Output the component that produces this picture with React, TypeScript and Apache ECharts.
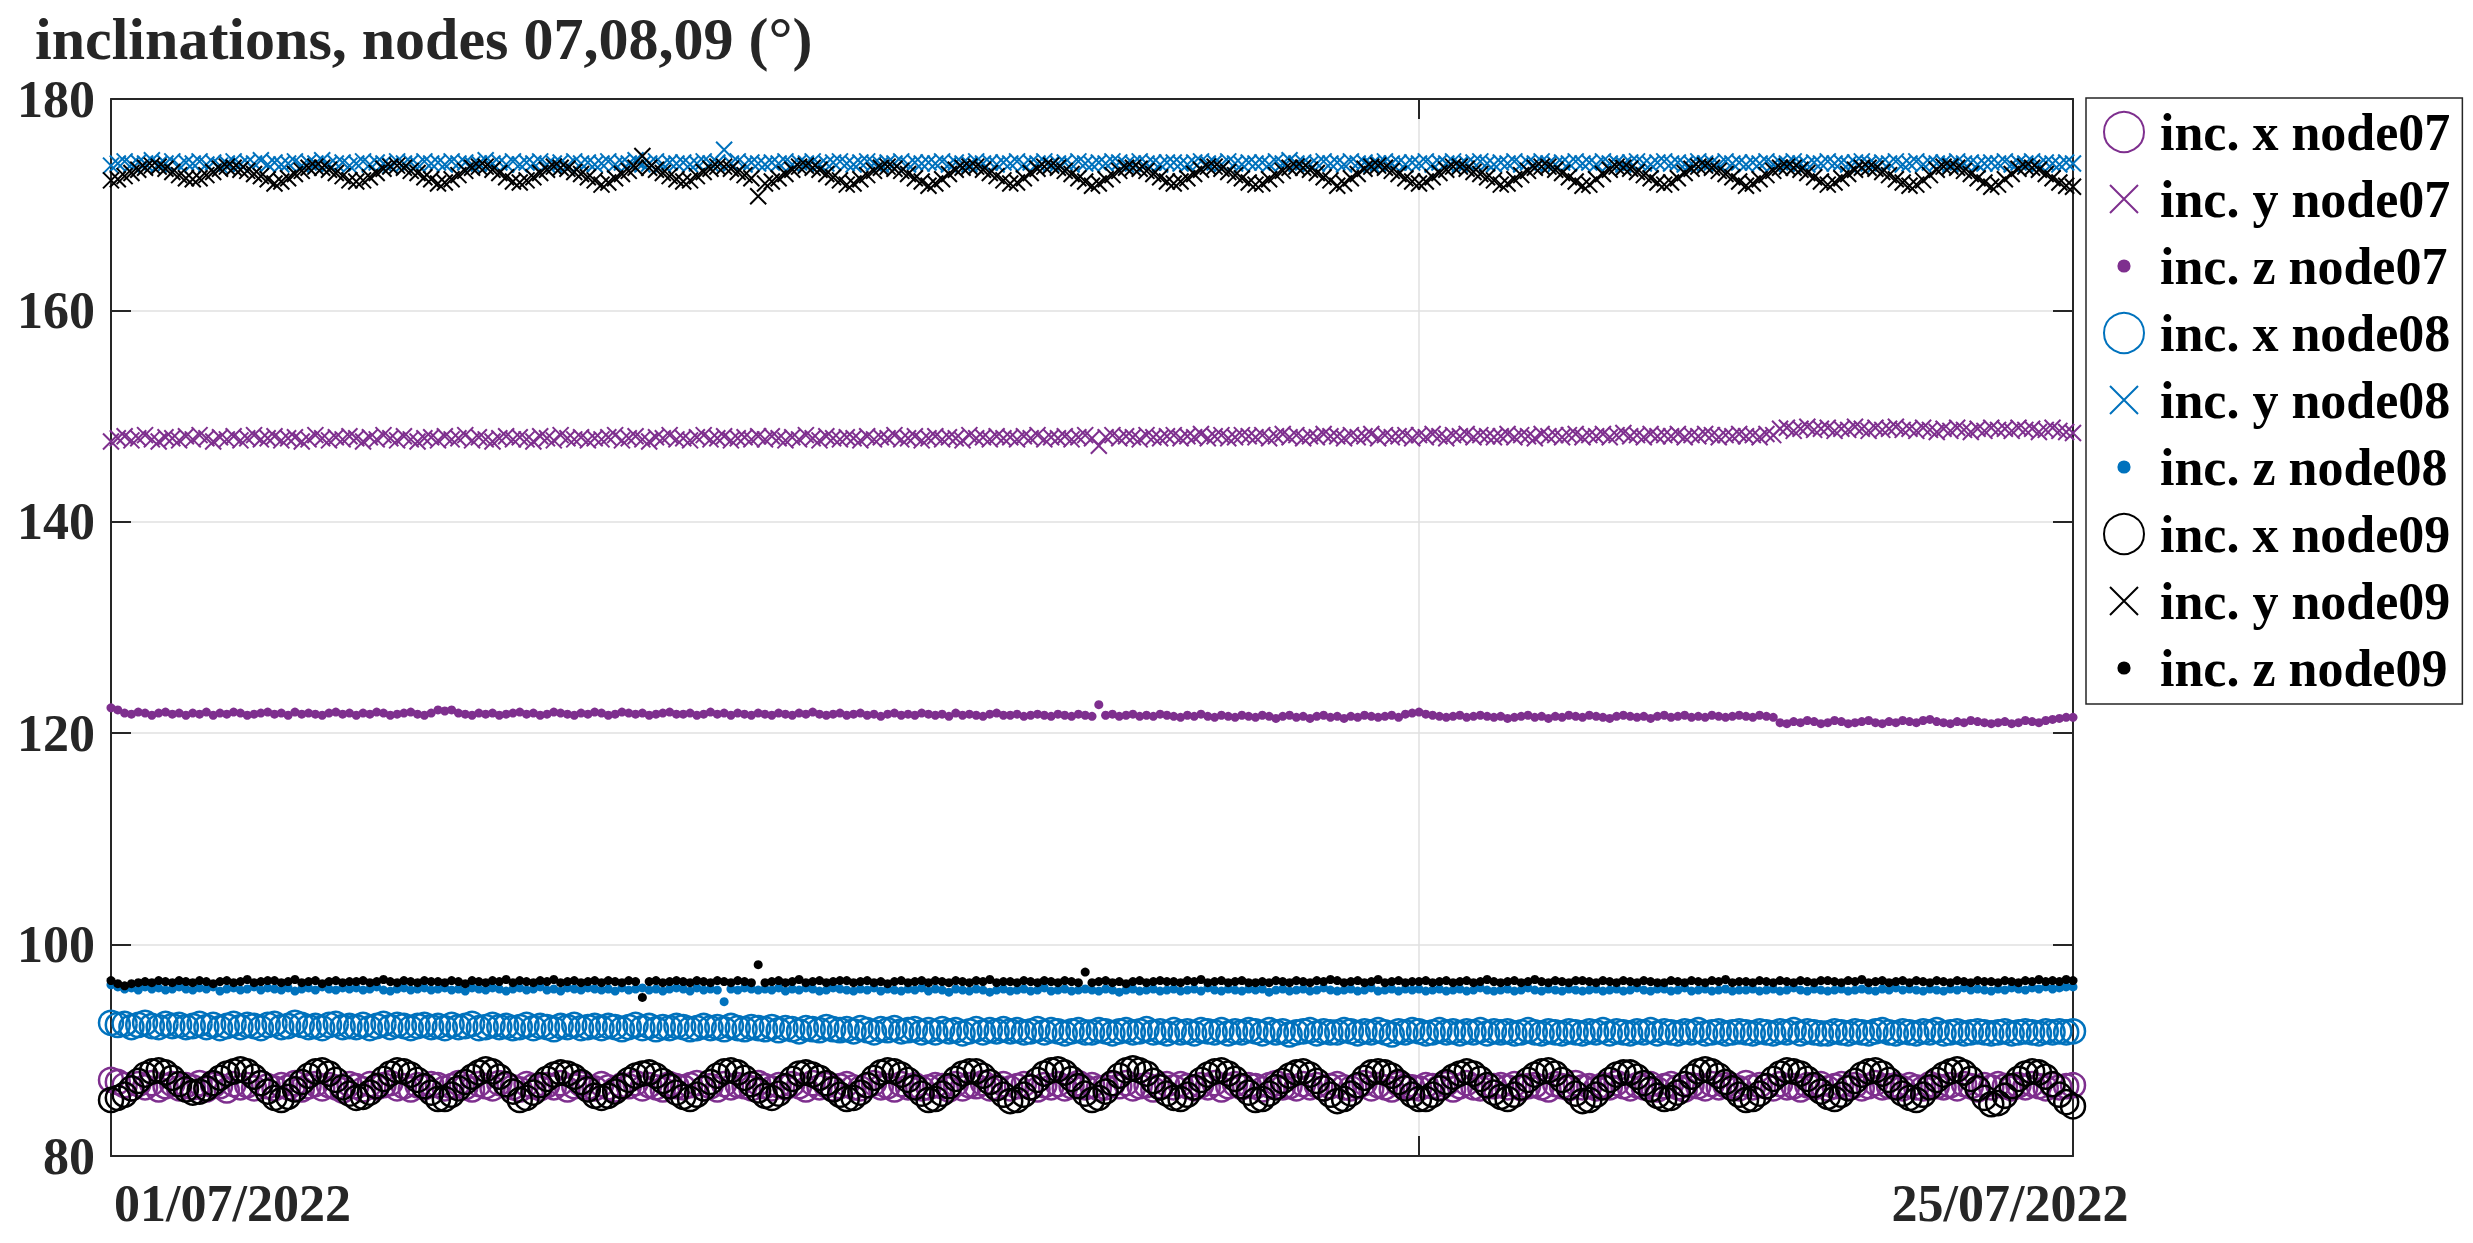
import React, { useEffect, useRef } from 'react';
import * as echarts from 'echarts';

// ---------- texts ----------
const TITLE = 'inclinations, nodes 07,08,09 (°)';
const X_TICK_LABELS = ['01/07/2022', '25/07/2022'];
const SERIES_NAMES = [
  'inc. x node07', 'inc. y node07', 'inc. z node07',
  'inc. x node08', 'inc. y node08', 'inc. z node08',
  'inc. x node09', 'inc. y node09', 'inc. z node09',
];

// ---------- axes (days since 01/07/2022 00:00) ----------
const X_MIN = 0;
const X_MAX = 24;
const X_INTERVAL = 16;
const Y_MIN = 80;
const Y_MAX = 180;
const Y_INTERVAL = 20;
const STEP_DAYS = 1 / 12; // one sample every 2 hours

// ---------- data (°), one row = one day, 12 samples ----------
const incX07 = [
  87.2, 87.0, 86.7, 86.4, 86.8, 86.5, 86.9, 86.3, 86.6, 86.8, 86.4, 86.7,
  86.5, 86.9, 86.3, 86.7, 86.6, 86.2, 86.8, 86.5, 86.7, 86.4, 86.9, 86.6,
  86.4, 86.7, 86.5, 86.9, 86.3, 86.6, 86.8, 86.4, 86.7, 86.5, 86.2, 86.8,
  86.6, 86.3, 86.8, 86.5, 86.7, 86.9, 86.4, 86.6, 86.3, 86.7, 86.5, 86.8,
  86.7, 86.4, 86.6, 86.9, 86.5, 86.3, 86.8, 86.6, 86.4, 86.9, 86.7, 86.5,
  86.3, 86.8, 86.6, 86.4, 86.7, 86.5, 86.9, 86.3, 86.6, 86.8, 86.5, 86.4,
  86.8, 86.5, 86.3, 86.7, 86.6, 86.9, 86.4, 86.7, 86.5, 86.3, 86.8, 86.6,
  86.5, 86.7, 86.9, 86.4, 86.6, 86.3, 86.8, 86.5, 86.7, 86.6, 86.4, 86.9,
  86.6, 86.4, 86.7, 86.5, 86.8, 86.6, 86.3, 86.9, 86.5, 86.7, 86.4, 86.6,
  86.8, 86.5, 86.4, 86.7, 86.9, 86.5, 86.6, 86.3, 86.8, 86.5, 86.7, 86.4,
  86.5, 86.7, 86.6, 86.3, 86.8, 86.4, 86.7, 86.6, 86.9, 86.4, 86.5, 86.8,
  86.4, 86.6, 86.8, 86.5, 86.3, 86.7, 86.5, 86.8, 86.4, 86.6, 86.9, 86.5,
  86.7, 86.4, 86.5, 86.8, 86.6, 86.9, 86.4, 86.6, 86.7, 86.3, 86.6, 86.8,
  86.5, 86.8, 86.6, 86.4, 86.7, 86.5, 86.9, 86.3, 86.6, 86.8, 86.5, 86.7,
  86.6, 86.3, 86.7, 86.9, 86.5, 86.6, 86.4, 86.8, 86.5, 86.7, 86.4, 86.6,
  86.8, 86.5, 86.4, 86.6, 86.9, 86.4, 86.7, 86.5, 86.3, 86.8, 86.6, 86.5,
  86.4, 86.7, 86.6, 86.5, 86.8, 86.3, 86.6, 86.9, 86.5, 86.4, 86.7, 86.6,
  86.7, 86.5, 86.8, 86.4, 86.6, 86.7, 86.5, 86.3, 86.8, 86.6, 86.4, 86.9,
  86.5, 86.6, 86.4, 86.7, 86.5, 86.9, 86.6, 86.4, 86.7, 86.5, 86.8, 86.3,
  86.6, 86.8, 86.5, 86.3, 86.7, 86.6, 86.4, 86.8, 86.5, 86.7, 86.6, 86.4,
  86.9, 86.5, 86.7, 86.6, 86.4, 86.8, 86.5, 86.6, 86.3, 86.7, 86.5, 86.8,
  86.4, 86.6, 86.8, 86.5, 86.7, 86.4, 86.6, 86.9, 86.5, 86.6, 86.7, 86.4,
  86.7, 86.5, 86.4, 86.8, 86.6, 86.5, 86.7, 86.4, 86.8, 86.6, 86.3, 86.7,
  86.5, 86.8, 86.6, 86.4, 86.7, 86.5, 86.8, 86.6, 86.4, 86.7, 86.5, 86.6,
  86.7,
];

const incY07 = [
  147.6, 147.9, 148.1, 147.7, 147.9, 148.2, 147.8, 147.6, 148.0, 147.9, 147.7, 148.1,
  147.8, 148.2, 147.9, 147.6, 148.0, 147.8, 148.1, 147.7, 147.9, 148.2, 147.8, 147.9,
  148.1, 147.7, 147.9, 148.0, 147.6, 147.8, 148.2, 147.9, 147.7, 148.0, 147.8, 148.1,
  147.9, 147.6, 148.0, 147.8, 148.2, 147.9, 147.7, 148.1, 147.8, 147.6, 147.9, 148.0,
  147.7, 148.1, 147.8, 147.9, 148.2, 147.7, 148.0, 147.8, 147.6, 147.9, 148.1, 147.8,
  148.0, 147.8, 147.6, 148.1, 147.9, 147.7, 148.2, 147.9, 147.8, 148.0, 147.7, 147.9,
  147.8, 148.0, 148.2, 147.7, 147.9, 148.1, 147.8, 147.6, 148.0, 147.9, 148.2, 147.8,
  147.9, 147.7, 148.0, 148.2, 147.8, 147.9, 148.1, 147.7, 147.9, 148.0, 147.8, 148.1,
  147.8, 148.1, 147.9, 147.7, 148.0, 147.8, 148.2, 147.9, 147.7, 148.1, 147.9, 147.8,
  148.0, 147.9, 147.7, 148.1, 147.8, 148.0, 147.9, 148.2, 147.8, 147.9, 148.1, 147.7,
  147.9, 148.1, 147.8, 148.0, 147.9, 147.7, 148.2, 147.9, 148.0, 147.8, 148.1, 147.9,
  148.0, 147.8, 148.1, 147.9, 148.2, 147.8, 148.0, 147.9, 148.1, 147.8, 148.0, 148.2,
  147.9, 147.2, 148.0, 148.2, 147.9, 148.1, 148.0, 147.8, 148.2, 148.0, 147.9, 148.1,
  148.2, 147.9, 148.1, 148.0, 148.3, 147.9, 148.1, 148.2, 147.9, 148.0, 148.2, 148.1,
  148.0, 148.2, 147.9, 148.1, 148.3, 148.0, 148.2, 147.9, 148.1, 148.0, 148.3, 148.1,
  148.1, 147.9, 148.2, 148.0, 148.1, 148.3, 147.9, 148.2, 148.0, 148.1, 148.2, 147.9,
  148.2, 148.0, 148.3, 148.1, 147.9, 148.2, 148.1, 148.3, 148.0, 148.2, 148.1, 148.0,
  148.1, 148.3, 148.0, 148.2, 148.1, 147.9, 148.3, 148.1, 148.2, 148.0, 148.2, 148.3,
  148.0, 148.2, 148.1, 148.3, 148.0, 148.2, 148.4, 148.1, 148.2, 148.0, 148.3, 148.1,
  148.2, 148.1, 148.3, 148.0, 148.2, 148.1, 148.3, 148.2, 148.0, 148.2, 148.1, 148.3,
  148.1, 148.2, 148.0, 148.3, 148.2, 148.8, 148.9, 148.6, 148.8, 149.0, 148.7, 148.8,
  148.9, 148.6, 148.8, 148.7, 149.0, 148.8, 148.6, 148.9, 148.7, 148.8, 149.0, 148.7,
  148.8, 148.6, 148.9, 148.7, 148.5, 148.8, 148.6, 148.9, 148.7, 148.5, 148.8, 148.6,
  148.9, 148.7, 148.8, 148.6, 148.9, 148.7, 148.8, 148.5, 148.7, 148.9, 148.6, 148.5,
  148.4,
];

const incZ07 = [
  122.4, 122.2, 121.9, 121.8, 122.0, 121.9, 121.7, 121.9, 122.0, 121.8, 121.9, 121.7,
  121.9, 121.8, 122.0, 121.7, 121.9, 121.8, 122.0, 121.9, 121.7, 121.8, 121.9, 122.0,
  121.8, 121.9, 121.7, 122.0, 121.8, 121.9, 121.8, 121.7, 121.9, 122.0, 121.8, 121.9,
  121.7, 121.9, 121.8, 122.0, 121.9, 121.7, 121.8, 121.9, 122.0, 121.8, 121.7, 121.9,
  122.2, 122.1, 122.2, 121.9, 121.8, 121.7, 121.9, 121.8, 121.9, 121.7, 121.8, 121.9,
  122.0, 121.8, 121.9, 121.7, 121.8, 122.0, 121.9, 121.8, 121.7, 121.9, 121.8, 122.0,
  121.9, 121.7, 121.8, 122.0, 121.9, 121.8, 121.9, 121.7, 121.8, 121.9, 122.0, 121.8,
  121.8, 121.9, 121.7, 121.8, 122.0, 121.8, 121.9, 121.7, 121.9, 121.8, 121.7, 121.9,
  121.8, 121.7, 121.9, 121.8, 121.7, 121.9, 121.8, 122.0, 121.8, 121.7, 121.8, 121.9,
  121.7, 121.8, 121.9, 121.7, 121.8, 121.6, 121.8, 121.9, 121.7, 121.8, 121.7, 121.9,
  121.8, 121.7, 121.8, 121.6, 121.9, 121.7, 121.8, 121.7, 121.6, 121.8, 121.9, 121.7,
  121.7, 121.8, 121.6, 121.7, 121.8, 121.7, 121.6, 121.8, 121.7, 121.6, 121.8, 121.7,
  121.6, 122.7, 121.7, 121.8, 121.6, 121.7, 121.8, 121.6, 121.7, 121.6, 121.8, 121.7,
  121.6, 121.5, 121.7, 121.6, 121.8, 121.6, 121.5, 121.7, 121.6, 121.5, 121.7, 121.6,
  121.5, 121.7, 121.6, 121.4, 121.6, 121.7, 121.5, 121.6, 121.4, 121.6, 121.7, 121.5,
  121.6, 121.4, 121.6, 121.5, 121.7, 121.6, 121.5, 121.6, 121.7, 121.5, 121.8, 121.9,
  122.0, 121.8, 121.7, 121.6, 121.5, 121.6, 121.7, 121.5, 121.6, 121.7, 121.6, 121.5,
  121.6, 121.4, 121.5, 121.6, 121.7, 121.5, 121.6, 121.4, 121.6, 121.5, 121.7, 121.6,
  121.5, 121.7, 121.6, 121.5, 121.4, 121.6, 121.7, 121.6, 121.5, 121.6, 121.4, 121.6,
  121.7, 121.5, 121.6, 121.7, 121.5, 121.6, 121.5, 121.7, 121.6, 121.5, 121.6, 121.7,
  121.6, 121.5, 121.7, 121.6, 121.5, 121.0, 120.9, 121.1, 121.0, 121.2, 121.1, 120.9,
  121.0, 121.2, 121.1, 120.9, 121.0, 121.1, 121.2, 121.0, 120.9, 121.1, 121.0, 121.2,
  121.1, 121.0, 121.2, 121.3, 121.1, 121.0, 120.9, 121.1, 121.0, 121.2, 121.1, 121.0,
  120.9, 121.0, 121.1, 120.9, 121.0, 121.2, 121.1, 121.0, 121.2, 121.3, 121.4, 121.5,
  121.5,
];

const incX08 = [
  92.6, 92.4, 92.5, 92.2, 92.4, 92.6, 92.3, 92.2, 92.5, 92.3, 92.4, 92.2,
  92.3, 92.5, 92.2, 92.4, 92.1, 92.3, 92.5, 92.2, 92.4, 92.3, 92.1, 92.4,
  92.5, 92.2, 92.3, 92.6, 92.4, 92.2, 92.3, 92.1, 92.4, 92.5, 92.2, 92.3,
  92.2, 92.4, 92.1, 92.3, 92.5, 92.2, 92.4, 92.3, 92.1, 92.3, 92.4, 92.2,
  92.3, 92.1, 92.4, 92.2, 92.3, 92.5, 92.1, 92.2, 92.4, 92.2, 92.3, 92.1,
  92.2, 92.4, 92.1, 92.3, 92.2, 92.0, 92.3, 92.2, 92.4, 92.1, 92.2, 92.3,
  92.1, 92.3, 92.2, 92.0, 92.2, 92.4, 92.1, 92.3, 92.0, 92.2, 92.1, 92.3,
  92.2, 92.0, 92.1, 92.3, 92.1, 92.2, 92.0, 92.3, 92.1, 92.0, 92.2, 92.1,
  92.0, 92.2, 91.9, 92.1, 92.0, 91.8, 92.1, 92.0, 91.9, 92.2, 92.0, 91.9,
  92.0, 91.8, 92.1, 91.9, 91.7, 92.0, 91.9, 92.1, 91.8, 91.9, 92.0, 91.7,
  91.9, 91.7, 92.0, 91.8, 91.9, 91.6, 91.8, 92.0, 91.7, 91.9, 91.8, 92.0,
  91.8, 91.9, 91.7, 91.8, 92.0, 91.7, 91.9, 91.8, 91.6, 91.8, 91.9, 91.7,
  91.7, 91.9, 91.8, 91.6, 91.8, 91.9, 91.7, 91.8, 92.0, 91.7, 91.8, 91.6,
  91.9, 91.7, 91.8, 91.6, 91.9, 91.8, 91.7, 91.9, 91.6, 91.8, 91.7, 91.9,
  91.8, 91.6, 91.9, 91.7, 91.8, 91.5, 91.7, 91.8, 91.9, 91.6, 91.8, 91.7,
  91.7, 91.9, 91.8, 91.6, 91.8, 91.7, 91.9, 91.7, 91.5, 91.8, 91.7, 91.9,
  91.8, 91.6, 91.7, 91.9, 91.7, 91.8, 91.6, 91.8, 91.7, 91.9, 91.6, 91.8,
  91.7, 91.8, 91.6, 91.7, 91.9, 91.7, 91.6, 91.8, 91.7, 91.6, 91.8, 91.7,
  91.6, 91.8, 91.7, 91.9, 91.6, 91.8, 91.7, 91.6, 91.8, 91.7, 91.9, 91.6,
  91.8, 91.7, 91.6, 91.8, 91.7, 91.9, 91.6, 91.7, 91.8, 91.6, 91.7, 91.8,
  91.7, 91.6, 91.8, 91.7, 91.6, 91.8, 91.7, 91.9, 91.6, 91.8, 91.7, 91.6,
  91.6, 91.8, 91.7, 91.6, 91.8, 91.7, 91.6, 91.8, 91.9, 91.7, 91.6, 91.8,
  91.7, 91.6, 91.8, 91.7, 91.9, 91.6, 91.7, 91.8, 91.6, 91.7, 91.8, 91.7,
  91.6, 91.7, 91.8, 91.6, 91.7, 91.8, 91.7, 91.6, 91.8, 91.7, 91.8, 91.7,
  91.8,
];

const incY08 = [
  173.7, 173.9, 174.1, 173.8, 174.0, 173.9, 174.2, 173.8, 173.9, 174.1, 173.7, 174.0,
  173.9, 174.1, 173.8, 174.0, 173.7, 173.9, 174.1, 173.8, 174.0, 173.9, 174.2, 173.8,
  174.0, 173.8, 173.9, 174.1, 173.7, 174.0, 173.9, 174.2, 173.8, 173.9, 174.0, 173.7,
  173.9, 174.1, 173.8, 174.0, 173.9, 173.7, 174.1, 173.9, 174.0, 173.8, 174.1, 173.9,
  174.0, 173.8, 174.1, 173.9, 174.0, 173.8, 173.9, 174.2, 173.9, 174.0, 173.8, 174.1,
  173.8, 174.0, 173.9, 174.1, 173.8, 173.9, 174.0, 173.7, 174.1, 173.9, 174.0, 173.8,
  173.9, 174.1, 173.8, 174.0, 173.9, 174.2, 173.8, 173.9, 174.1, 173.8, 174.0, 173.9,
  174.0, 173.8, 173.9, 174.1, 173.9, 174.0, 175.2, 173.9, 174.1, 173.8, 174.0, 173.9,
  173.8, 174.0, 173.9, 174.1, 173.8, 174.0, 173.9, 174.1, 173.8, 173.9, 174.0, 174.1,
  173.9, 173.8, 174.0, 174.1, 173.9, 173.8, 174.0, 173.9, 174.1, 173.8, 174.0, 173.9,
  174.0, 173.9, 174.1, 173.8, 174.0, 173.9, 173.8, 174.1, 173.9, 174.0, 173.8, 174.0,
  173.9, 174.1, 173.8, 174.0, 173.9, 174.1, 173.8, 173.9, 174.0, 173.8, 174.1, 173.9,
  173.8, 174.0, 173.9, 174.1, 174.0, 173.8, 173.9, 174.1, 173.9, 174.0, 173.8, 174.0,
  174.0, 173.9, 173.8, 174.0, 174.1, 173.9, 174.0, 173.8, 174.1, 173.9, 173.8, 174.0,
  173.9, 174.0, 173.8, 174.1, 173.9, 174.2, 173.9, 174.0, 173.8, 173.9, 174.1, 173.9,
  174.0, 173.8, 174.1, 173.9, 174.0, 173.8, 173.9, 174.1, 173.9, 174.0, 173.8, 174.0,
  173.9, 174.1, 173.8, 174.0, 173.9, 174.1, 173.8, 173.9, 174.0, 174.1, 173.9, 173.8,
  174.0, 173.9, 174.1, 173.8, 174.0, 173.9, 174.1, 173.9, 173.8, 174.0, 173.9, 174.1,
  173.9, 174.0, 173.8, 174.1, 173.9, 174.0, 173.8, 174.0, 174.1, 173.9, 173.8, 174.0,
  174.1, 173.9, 174.0, 173.8, 173.9, 174.1, 173.9, 174.0, 173.8, 174.1, 173.9, 174.0,
  173.8, 174.0, 173.9, 174.1, 173.8, 174.0, 173.9, 174.1, 173.9, 173.8, 174.0, 173.9,
  174.1, 173.9, 174.0, 173.8, 174.0, 174.1, 173.9, 173.8, 174.0, 173.9, 174.1, 173.8,
  173.9, 174.1, 173.8, 174.0, 173.9, 174.0, 173.8, 174.1, 173.9, 174.0, 173.8, 173.9,
  174.0, 173.9, 174.1, 173.8, 174.0, 173.9, 174.1, 173.8, 174.0, 173.9, 173.8, 174.0,
  173.9,
];

const incZ08 = [
  96.2, 96.0, 95.8, 95.9, 95.7, 96.0, 95.8, 95.9, 95.7, 95.8, 96.0, 95.8,
  95.7, 95.9, 95.8, 96.0, 95.6, 95.8, 95.9, 95.7, 95.8, 96.0, 95.7, 95.9,
  95.8, 95.7, 95.9, 95.6, 95.8, 95.9, 95.7, 96.0, 95.8, 95.7, 95.9, 95.8,
  95.9, 95.7, 95.8, 96.0, 95.7, 95.6, 95.8, 95.9, 95.7, 95.8, 95.9, 95.7,
  95.8, 95.9, 95.7, 95.8, 95.6, 95.9, 95.8, 95.7, 95.9, 95.8, 95.6, 95.8,
  95.9, 95.7, 95.8, 96.0, 95.7, 95.8, 95.6, 95.9, 95.8, 95.7, 95.9, 95.8,
  95.7, 95.8, 95.6, 95.9, 95.7, 95.8, 95.9, 95.7, 95.8, 95.6, 95.8, 95.9,
  95.8, 95.6, 95.9, 95.7, 95.8, 95.7, 94.6, 95.8, 95.7, 95.9, 95.8, 95.7,
  95.8, 95.7, 95.9, 95.6, 95.8, 95.7, 95.9, 95.8, 95.6, 95.7, 95.9, 95.8,
  95.7, 95.6, 95.8, 95.7, 95.9, 95.6, 95.8, 95.7, 95.6, 95.8, 95.7, 95.9,
  95.6, 95.8, 95.7, 95.5, 95.8, 95.7, 95.6, 95.8, 95.7, 95.5, 95.7, 95.8,
  95.6, 95.7, 95.8, 95.6, 95.7, 95.9, 95.6, 95.7, 95.8, 95.6, 95.7, 95.8,
  95.7, 95.6, 95.8, 95.7, 95.5, 95.7, 95.8, 95.6, 95.7, 95.8, 95.6, 95.7,
  95.8, 95.6, 95.7, 95.8, 95.6, 95.9, 95.7, 95.6, 95.8, 95.7, 95.6, 95.8,
  95.7, 95.8, 95.5, 95.7, 95.8, 95.6, 95.7, 95.8, 95.6, 95.7, 95.9, 95.7,
  95.6, 95.7, 95.8, 95.6, 95.7, 95.9, 95.6, 95.7, 95.8, 95.6, 95.8, 95.7,
  95.8, 95.6, 95.7, 95.8, 95.6, 95.7, 95.8, 95.6, 95.7, 95.9, 95.7, 95.6,
  95.7, 95.8, 95.6, 95.7, 95.9, 95.7, 95.6, 95.8, 95.7, 95.6, 95.8, 95.7,
  95.6, 95.7, 95.8, 95.6, 95.7, 95.8, 95.6, 95.7, 95.9, 95.7, 95.6, 95.8,
  95.8, 95.6, 95.7, 95.9, 95.6, 95.7, 95.8, 95.6, 95.7, 95.8, 95.6, 95.7,
  95.7, 95.8, 95.6, 95.7, 95.8, 95.6, 95.7, 95.9, 95.7, 95.6, 95.8, 95.7,
  95.6, 95.7, 95.8, 95.6, 95.7, 95.8, 95.7, 95.6, 95.8, 95.7, 95.9, 95.7,
  95.8, 95.7, 95.6, 95.8, 95.7, 95.6, 95.8, 95.7, 95.9, 95.7, 95.8, 95.7,
  95.6, 95.8, 95.7, 95.9, 95.8, 95.7, 95.9, 95.8, 96.0, 95.8, 95.9, 96.0,
  96.0,
];

const incX09 = [
  85.3, 85.5, 85.8, 86.4, 87.1, 87.7, 88.0, 88.1, 87.9, 87.4, 86.8, 86.3,
  86.0, 86.1, 86.4, 86.9, 87.4, 87.8, 88.0, 88.2, 88.0, 87.5, 86.9, 86.1,
  85.5, 85.3, 85.6, 86.3, 87.0, 87.6, 88.0, 88.1, 87.8, 87.2, 86.5, 85.9,
  85.5, 85.6, 86.0, 86.6, 87.3, 87.8, 88.1, 88.0, 87.7, 87.2, 86.6, 86.0,
  85.4, 85.4, 85.8, 86.4, 87.0, 87.5, 87.9, 88.2, 88.0, 87.5, 86.8, 86.1,
  85.3, 85.5, 86.0, 86.7, 87.3, 87.7, 87.9, 87.8, 87.5, 87.0, 86.3, 85.7,
  85.5, 85.7, 86.1, 86.6, 87.2, 87.6, 87.8, 87.9, 87.6, 87.1, 86.6, 86.0,
  85.6, 85.4, 85.8, 86.4, 87.0, 87.6, 88.0, 88.1, 87.9, 87.4, 86.8, 86.2,
  85.7, 85.5, 85.9, 86.6, 87.3, 87.8, 87.9, 87.7, 87.4, 86.9, 86.3, 85.8,
  85.4, 85.5, 86.0, 86.7, 87.4, 87.9, 88.1, 88.0, 87.7, 87.2, 86.5, 85.9,
  85.3, 85.4, 85.9, 86.6, 87.3, 87.8, 88.0, 88.0, 87.6, 87.0, 86.4, 85.8,
  85.2, 85.3, 85.8, 86.5, 87.2, 87.8, 88.1, 88.2, 87.9, 87.3, 86.6, 85.9,
  85.3, 85.5, 86.1, 86.9, 87.6, 88.1, 88.3, 88.1, 87.8, 87.1, 86.5, 85.9,
  85.5, 85.4, 85.8, 86.5, 87.2, 87.7, 88.0, 88.1, 87.8, 87.3, 86.6, 86.0,
  85.3, 85.4, 85.9, 86.5, 87.1, 87.6, 87.9, 88.0, 87.7, 87.1, 86.4, 85.8,
  85.2, 85.4, 85.9, 86.7, 87.4, 87.9, 88.0, 87.9, 87.6, 87.0, 86.4, 85.8,
  85.4, 85.4, 85.8, 86.4, 87.0, 87.5, 87.8, 88.0, 87.8, 87.3, 86.7, 86.0,
  85.6, 85.4, 85.8, 86.5, 87.2, 87.7, 88.0, 88.1, 87.8, 87.2, 86.5, 85.9,
  85.2, 85.3, 85.8, 86.5, 87.2, 87.7, 87.9, 87.9, 87.5, 86.9, 86.3, 85.7,
  85.4, 85.5, 86.0, 86.8, 87.5, 88.0, 88.2, 88.0, 87.6, 87.0, 86.4, 85.8,
  85.3, 85.4, 85.9, 86.6, 87.3, 87.8, 88.1, 88.0, 87.8, 87.3, 86.7, 86.1,
  85.6, 85.4, 85.8, 86.4, 87.1, 87.7, 88.0, 88.1, 87.8, 87.2, 86.5, 85.9,
  85.5, 85.3, 85.8, 86.5, 87.2, 87.7, 88.0, 88.2, 87.9, 87.3, 86.4, 85.5,
  84.9, 85.0, 85.7, 86.6, 87.3, 87.8, 88.0, 87.9, 87.5, 86.8, 85.8, 85.1,
  84.7,
];

const incY09 = [
  172.3, 172.4, 172.7, 173.0, 173.3, 173.5, 173.7, 173.6, 173.4, 173.1, 172.8, 172.5,
  172.4, 172.5, 172.8, 173.1, 173.4, 173.6, 173.5, 173.3, 173.2, 172.9, 172.7, 172.4,
  172.0, 172.2, 172.5, 172.9, 173.2, 173.5, 173.6, 173.5, 173.3, 173.0, 172.7, 172.3,
  172.2, 172.3, 172.6, 173.0, 173.4, 173.6, 173.7, 173.5, 173.2, 173.0, 172.6, 172.4,
  172.0, 172.1, 172.4, 172.8, 173.2, 173.5, 173.6, 173.6, 173.3, 173.0, 172.6, 172.2,
  172.1, 172.3, 172.6, 173.0, 173.3, 173.6, 173.5, 173.4, 173.1, 172.9, 172.6, 172.3,
  171.9, 172.1, 172.5, 172.9, 173.2, 173.5, 174.6, 173.5, 173.3, 173.0, 172.7, 172.4,
  172.2, 172.3, 172.7, 173.1, 173.4, 173.6, 173.6, 173.4, 173.1, 172.8, 172.5, 170.8,
  172.0, 172.2, 172.5, 172.9, 173.3, 173.6, 173.7, 173.5, 173.3, 172.9, 172.6, 172.3,
  171.9, 172.0, 172.4, 172.8, 173.2, 173.5, 173.6, 173.4, 173.2, 172.9, 172.5, 172.2,
  171.8, 172.0, 172.4, 172.9, 173.3, 173.5, 173.6, 173.6, 173.3, 173.0, 172.7, 172.3,
  172.0, 172.1, 172.5, 173.0, 173.4, 173.6, 173.7, 173.5, 173.2, 172.9, 172.5, 172.2,
  171.8, 172.0, 172.4, 172.8, 173.2, 173.5, 173.5, 173.4, 173.2, 172.9, 172.6, 172.2,
  172.0, 172.2, 172.5, 172.9, 173.3, 173.6, 173.6, 173.4, 173.1, 172.8, 172.5, 172.1,
  171.9, 172.0, 172.4, 172.8, 173.2, 173.5, 173.6, 173.5, 173.3, 173.0, 172.6, 172.3,
  171.8, 172.0, 172.5, 172.9, 173.4, 173.6, 173.7, 173.5, 173.2, 172.9, 172.5, 172.2,
  172.0, 172.2, 172.6, 173.0, 173.3, 173.6, 173.6, 173.4, 173.1, 172.9, 172.6, 172.3,
  171.9, 172.0, 172.4, 172.8, 173.2, 173.5, 173.6, 173.6, 173.3, 173.0, 172.6, 172.2,
  171.8, 171.9, 172.4, 172.9, 173.3, 173.6, 173.5, 173.4, 173.1, 172.8, 172.5, 172.1,
  171.9, 172.1, 172.5, 173.0, 173.4, 173.6, 173.7, 173.5, 173.2, 172.9, 172.6, 172.2,
  171.8, 172.0, 172.4, 172.8, 173.2, 173.5, 173.6, 173.5, 173.3, 173.0, 172.6, 172.2,
  171.9, 172.1, 172.5, 172.9, 173.3, 173.5, 173.5, 173.4, 173.1, 172.8, 172.4, 172.1,
  171.8, 171.9, 172.3, 172.8, 173.3, 173.6, 173.6, 173.5, 173.2, 172.9, 172.5, 172.1,
  171.7, 171.9, 172.4, 172.9, 173.4, 173.6, 173.5, 173.3, 172.9, 172.5, 172.1, 171.8,
  171.7,
];

const incZ09 = [
  96.6, 96.3, 96.1, 96.3, 96.4, 96.5, 96.4, 96.6, 96.5, 96.4, 96.6, 96.5,
  96.4, 96.6, 96.5, 96.3, 96.5, 96.6, 96.4, 96.5, 96.7, 96.4, 96.5, 96.6,
  96.6, 96.4, 96.5, 96.7, 96.4, 96.5, 96.6, 96.3, 96.5, 96.6, 96.4, 96.5,
  96.5, 96.6, 96.4, 96.5, 96.7, 96.5, 96.4, 96.6, 96.5, 96.4, 96.6, 96.5,
  96.5, 96.4, 96.6, 96.5, 96.3, 96.6, 96.5, 96.4, 96.6, 96.5, 96.7, 96.4,
  96.6, 96.5, 96.4, 96.6, 96.5, 96.7, 96.4, 96.5, 96.6, 96.4, 96.5, 96.6,
  96.4, 96.6, 96.5, 96.4, 96.6, 96.5, 95.0, 96.5, 96.6, 96.4, 96.5, 96.6,
  96.5, 96.4, 96.6, 96.5, 96.4, 96.6, 96.5, 96.4, 96.6, 96.5, 96.4, 98.1,
  96.4, 96.5, 96.6, 96.4, 96.5, 96.7, 96.4, 96.5, 96.6, 96.4, 96.5, 96.6,
  96.6, 96.4, 96.5, 96.6, 96.4, 96.5, 96.3, 96.5, 96.6, 96.4, 96.5, 96.6,
  96.4, 96.6, 96.5, 96.4, 96.6, 96.5, 96.4, 96.6, 96.5, 96.7, 96.4, 96.5,
  96.5, 96.4, 96.6, 96.5, 96.4, 96.6, 96.5, 96.4, 96.6, 96.5, 96.4, 97.4,
  96.4, 96.5, 96.6, 96.4, 96.5, 96.3, 96.5, 96.6, 96.4, 96.5, 96.6, 96.5,
  96.5, 96.4, 96.6, 96.5, 96.7, 96.4, 96.5, 96.6, 96.4, 96.5, 96.6, 96.4,
  96.4, 96.5, 96.4, 96.6, 96.5, 96.4, 96.6, 96.5, 96.4, 96.6, 96.5, 96.7,
  96.6, 96.4, 96.5, 96.6, 96.4, 96.5, 96.7, 96.4, 96.5, 96.6, 96.4, 96.5,
  96.5, 96.6, 96.4, 96.5, 96.6, 96.4, 96.5, 96.6, 96.4, 96.5, 96.7, 96.5,
  96.4, 96.5, 96.6, 96.4, 96.5, 96.7, 96.5, 96.4, 96.6, 96.5, 96.4, 96.6,
  96.6, 96.5, 96.4, 96.6, 96.5, 96.4, 96.6, 96.5, 96.4, 96.6, 96.5, 96.4,
  96.4, 96.6, 96.5, 96.4, 96.6, 96.5, 96.4, 96.6, 96.5, 96.7, 96.4, 96.5,
  96.5, 96.4, 96.6, 96.5, 96.4, 96.6, 96.5, 96.4, 96.6, 96.5, 96.4, 96.6,
  96.6, 96.5, 96.4, 96.6, 96.5, 96.7, 96.4, 96.5, 96.6, 96.4, 96.5, 96.6,
  96.4, 96.6, 96.5, 96.4, 96.6, 96.5, 96.4, 96.6, 96.5, 96.4, 96.6, 96.5,
  96.5, 96.4, 96.6, 96.5, 96.4, 96.6, 96.5, 96.7, 96.5, 96.6, 96.5, 96.7,
  96.6,
];

// ---------- styles ----------
const PURPLE = '#7E2F8E';
const BLUE = '#0072BD';
const BLACK = '#000000';
const AXIS_COLOR = '#262626';
const GRID_COLOR = '#E0E0E0';
const FONT = "'Liberation Serif', 'Times New Roman', serif";
const NONE = 'rgba(0,0,0,0)';

const CROSS = 'path://M0,0L10,10M10,0L0,10';
const CROSS_ICON = 'path://M-10,-10M10,10M-7,-7L7,7M7,-7L-7,7';
const DOT_ICON = 'path://M-10,-10M10,10M-3.3,0A3.3,3.3,0,1,1,3.3,0A3.3,3.3,0,1,1,-3.3,0Z';

type Kind = 'circle' | 'cross' | 'dot';

function makeSeries(name: string, values: number[], kind: Kind, color: string) {
  const data = values.map((v, i) => [i * STEP_DAYS, v]);
  const base: any = {
    type: 'scatter',
    name,
    data,
    xAxisIndex: 0,
    yAxisIndex: 0,
    silent: true,
    emphasis: { disabled: true },
  };
  if (kind === 'circle') {
    return { ...base, symbol: 'circle', symbolSize: 24, itemStyle: { color: NONE, borderColor: color, borderWidth: 2.5, opacity: 1 } };
  }
  if (kind === 'cross') {
    return { ...base, symbol: CROSS, symbolSize: 16, itemStyle: { color: NONE, borderColor: color, borderWidth: 2, opacity: 1 } };
  }
  return { ...base, symbol: 'circle', symbolSize: 9, itemStyle: { color, borderWidth: 0, opacity: 1 } };
}

const ICONS: Record<Kind, string> = { circle: 'circle', cross: CROSS_ICON, dot: DOT_ICON };

export default function App() {
  const ref = useRef<HTMLDivElement>(null);

  useEffect(() => {
    if (!ref.current) return;
    const chart = echarts.init(ref.current, undefined, { renderer: 'svg' });

    const defs: [number[], Kind, string][] = [
      [incX07, 'circle', PURPLE],
      [incY07, 'cross', PURPLE],
      [incZ07, 'dot', PURPLE],
      [incX08, 'circle', BLUE],
      [incY08, 'cross', BLUE],
      [incZ08, 'dot', BLUE],
      [incX09, 'circle', BLACK],
      [incY09, 'cross', BLACK],
      [incZ09, 'dot', BLACK],
    ];
    const series = defs.map(([vals, kind, color], k) => makeSeries(SERIES_NAMES[k], vals, kind, color));

    const axisLine = { show: true, onZero: false, lineStyle: { color: AXIS_COLOR, width: 2 } };
    const axisTick = { show: true, inside: true, length: 20, lineStyle: { color: AXIS_COLOR, width: 2 } };
    const splitLine = { show: true, lineStyle: { color: GRID_COLOR, width: 1.5 } };

    const option: any = {
      animation: false,
      backgroundColor: '#ffffff',
      title: {
        text: TITLE,
        left: 35,
        top: 9,
        padding: 0,
        textStyle: { fontFamily: FONT, fontSize: 60, fontWeight: 'bold', color: AXIS_COLOR },
      },
      grid: { left: 111, right: 400, top: 99, bottom: 87, containLabel: false },
      xAxis: [
        {
          type: 'value', min: X_MIN, max: X_MAX, interval: X_INTERVAL, position: 'bottom',
          axisLine, axisTick, splitLine, axisLabel: { show: false },
        },
        {
          type: 'value', min: X_MIN, max: X_MAX, interval: X_INTERVAL, position: 'top',
          axisLine, axisTick, splitLine: { show: false }, axisLabel: { show: false },
        },
      ],
      yAxis: [
        {
          type: 'value', min: Y_MIN, max: Y_MAX, interval: Y_INTERVAL, position: 'left',
          axisLine, axisTick, splitLine,
          axisLabel: {
            show: true, margin: 16, fontFamily: FONT, fontSize: 52, fontWeight: 'bold',
            color: AXIS_COLOR, padding: [0, 0, 10, 0],
          },
        },
        {
          type: 'value', min: Y_MIN, max: Y_MAX, interval: Y_INTERVAL, position: 'right',
          axisLine, axisTick, splitLine: { show: false }, axisLabel: { show: false },
        },
      ],
      legend: {
        orient: 'vertical',
        left: 2086,
        top: 98,
        padding: [8, 12, 10, 17],
        itemGap: 15,
        itemWidth: 42,
        itemHeight: 40,
        backgroundColor: '#ffffff',
        borderColor: AXIS_COLOR,
        borderWidth: 1.5,
        borderRadius: 0,
        selectedMode: false,
        textStyle: { fontFamily: FONT, fontSize: 52, fontWeight: 'bold', color: '#000000', padding: [0, 0, 0, 10] },
        data: defs.map(([, kind], k) => ({ name: SERIES_NAMES[k], icon: ICONS[kind] })),
      },
      graphic: [
        {
          type: 'text', x: 114, y: 1203, silent: true,
          style: {
            text: X_TICK_LABELS[0], fontFamily: FONT, fontSize: 52, fontWeight: 'bold',
            fill: AXIS_COLOR, align: 'left', verticalAlign: 'middle',
          },
        },
        {
          type: 'text', x: 2010, y: 1203, silent: true,
          style: {
            text: X_TICK_LABELS[1], fontFamily: FONT, fontSize: 52, fontWeight: 'bold',
            fill: AXIS_COLOR, align: 'center', verticalAlign: 'middle',
          },
        },
      ],
      series,
    };

    chart.setOption(option);
    return () => chart.dispose();
  }, []);

  return (
    <div
      ref={ref}
      style={{ position: 'fixed', left: 0, top: 0, width: 2473, height: 1243, background: '#ffffff' }}
    />
  );
}
